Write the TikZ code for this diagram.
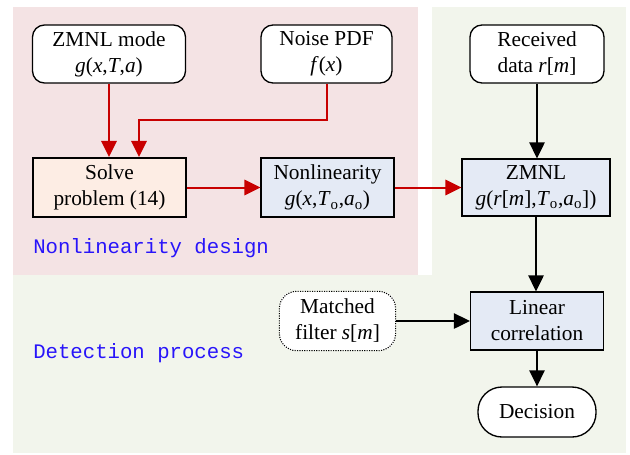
\documentclass[tikz,border=0pt]{standalone}
\usepackage{fontspec}
\setmainfont{Liberation Serif}
\newfontfamily\labelfont{Liberation Mono}
\usetikzlibrary{arrows.meta,positioning}
\definecolor{designbg}{RGB}{244,227,228}
\definecolor{detectbg}{RGB}{242,245,236}
\definecolor{solvefill}{RGB}{253,237,228}
\definecolor{blockfill}{RGB}{228,234,245}
\definecolor{flowred}{RGB}{200,0,0}
\definecolor{labelblue}{RGB}{40,20,250}
\newcommand{\vi}[1]{\textit{#1}}
\newcommand{\sbo}{\textsubscript{o}}
\tikzset{
  basebox/.style={align=center, inner sep=0pt, text=black,
    font=\fontsize{16}{19.5}\selectfont},
  roundbox/.style={basebox, draw, line width=1pt, fill=white, rounded corners=9pt},
  squarebox/.style={basebox, draw, line width=0.9pt, fill=blockfill},
  solvebox/.style={basebox, draw, line width=1.6pt, fill=solvefill},
  redflow/.style={draw=flowred, line width=1.5pt,
    -{Triangle[length=12pt,width=11.5pt]}, color=flowred},
  blackflow/.style={draw=black, line width=1.3pt,
    -{Triangle[length=12pt,width=11.5pt]}},
  regionlabel/.style={anchor=west, text=labelblue, inner sep=0pt,
    font=\labelfont\fontsize{15.5}{18}\selectfont},
}
\begin{document}
\begin{tikzpicture}[x=0.75pt,y=-0.75pt]
\useasboundingbox (0,0) rectangle (630,454);
\fill[white] (0,0) rectangle (630,454);
% shaded regions
\fill[designbg] (13,7) rectangle (418,275);
\fill[detectbg] (432,7) rectangle (626,453);
\fill[detectbg] (13,275) rectangle (432,453);

% design stage
\node[roundbox, minimum width={153*0.75pt}, minimum height={58*0.75pt}]
  (mode) at (109,54) {ZMNL mode\\\vi{g}(\vi{x},\vi{T},\vi{a})};
\node[roundbox, minimum width={131*0.75pt}, minimum height={58*0.75pt}]
  (pdf) at (326.5,54) {Noise PDF\\\vi{f}(\vi{x})};
\node[solvebox, minimum width={153*0.75pt}, minimum height={59*0.75pt}]
  (solve) at (109.5,187.5) {Solve\\problem (14)};
\node[squarebox, minimum width={133*0.75pt}, minimum height={59*0.75pt}]
  (nonlin) at (327.5,187.5) {Nonlinearity\\\vi{g}(\vi{x},\vi{T}\sbo,\vi{a}\sbo)};

% detection stage
\node[roundbox, minimum width={134*0.75pt}, minimum height={58*0.75pt}]
  (recv) at (537,54) {Received\\data \vi{r}[\vi{m}]};
\node[squarebox, minimum width={148*0.75pt}, minimum height={57*0.75pt}]
  (zmnl) at (536,187.5) {ZMNL\\\vi{g}(\vi{r}[\vi{m}],\vi{T}\sbo,\vi{a}\sbo])};
\node[squarebox, minimum width={133*0.75pt}, minimum height={58*0.75pt}]
  (lin) at (537,321) {Linear\\correlation};
\node[roundbox, rounded corners=18pt, minimum width={118*0.75pt}, minimum height={50*0.75pt}]
  (dec) at (537,412) {Decision};
\node[roundbox, draw=none, minimum width={115*0.75pt}, minimum height={58*0.75pt}]
  (mf) at (337.5,321) {Matched\\filter \vi{s}[\vi{m}]};
\draw[densely dotted, line width=0.8pt, rounded corners=13pt]
  (mf.south west) rectangle (mf.north east);

% region labels
\node[regionlabel] (designlbl) at (33,248) {Nonlinearity design};
\node[regionlabel] (detectlbl) at (33,353) {Detection process};

% design flow
\coordinate (bend) at (139,120);
\draw[redflow] (mode.south) -- (mode.south |- solve.north);
\draw[redflow] (pdf.south) |- (bend) -- (bend |- solve.north);
\draw[redflow] (solve.east) -- (nonlin.west);
\draw[redflow] (nonlin.east) -- (zmnl.west);

% detection flow
\draw[blackflow] (recv.south) -- (recv.south |- zmnl.north);
\draw[blackflow] (zmnl.south) -- (zmnl.south |- lin.north);
\draw[blackflow] (mf.east) -- (lin.west);
\draw[blackflow] (lin.south) -- (lin.south |- dec.north);
\end{tikzpicture}
\end{document}
